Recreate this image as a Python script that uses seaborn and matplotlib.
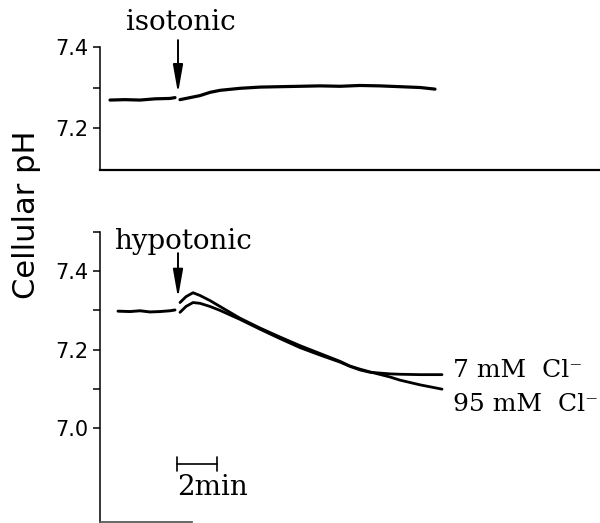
import matplotlib
matplotlib.use("Agg")
import matplotlib.pyplot as plt
import seaborn as sns
import pandas as pd

# ---------------- data (time in min, cellular pH) ----------------
iso_pre_t = [0.5, 1.25, 2.0, 2.75, 3.5, 3.75]
iso_pre_ph = [7.269, 7.270, 7.269, 7.272, 7.273, 7.275]
iso_post_t = [4.0, 4.5, 5.0, 5.5, 6.0, 7.0, 8.0, 9.0, 10.0, 11.0, 12.0, 13.0, 14.0, 15.0, 16.0, 16.75]
iso_post_ph = [7.270, 7.275, 7.280, 7.288, 7.293, 7.298, 7.301, 7.302, 7.303, 7.304, 7.303, 7.305,
               7.304, 7.302, 7.300, 7.296]

hypo_pre_t = [0.9, 1.5, 2.0, 2.5, 3.0, 3.5, 3.75]
hypo_pre_ph = [7.298, 7.297, 7.299, 7.296, 7.297, 7.299, 7.301]

hypo_t = [4.0, 4.3, 4.65, 5.0, 5.5, 6.0, 7.0, 8.0, 9.0, 10.0, 11.0, 12.0, 12.5, 13.0, 13.5,
          14.5, 15.0, 16.0, 17.1]
cl95_ph = [7.320, 7.335, 7.345, 7.338, 7.325, 7.310, 7.280, 7.255, 7.232, 7.210, 7.190, 7.170,
           7.158, 7.150, 7.143, 7.130, 7.122, 7.110, 7.099]
cl7_ph = [7.295, 7.310, 7.320, 7.318, 7.310, 7.300, 7.277, 7.252, 7.228, 7.205, 7.186, 7.168,
          7.157, 7.148, 7.142, 7.138, 7.137, 7.136, 7.136]

series_labels = ["7 mM  Cl\u207b", "95 mM  Cl\u207b"]
panel_labels = ["isotonic", "hypotonic"]
scale_bar_min = 2

# ---------------- style ----------------
sns.set_theme(style="ticks")
plt.rcParams["font.family"] = ["DejaVu Sans"]
plt.rcParams["text.color"] = "black"
plt.rcParams["axes.edgecolor"] = "black"
plt.rcParams["xtick.color"] = "black"
plt.rcParams["ytick.color"] = "black"
plt.rcParams["xtick.labelcolor"] = "black"
plt.rcParams["ytick.labelcolor"] = "black"

fig = plt.figure(figsize=(6.0, 5.23), dpi=100)
W, H = 600.0, 523.0
ax1 = fig.add_axes([100 / W, 1 - 170 / H, 500 / W, 123 / H])
ax2 = fig.add_axes([100 / W, 1 - 522 / H, 500 / W, 290 / H])

XMAX = 25.0
top_ylim = (7.0963, 7.4)
bot_ylim = (6.760, 7.5)


def trace(ax, t, ph, lw):
    df = pd.DataFrame({"t": t, "ph": ph})
    sns.lineplot(data=df, x="t", y="ph", ax=ax, color="black", lw=lw,
                 estimator=None, sort=False)


# top panel
trace(ax1, iso_pre_t, iso_pre_ph, 2.3)
trace(ax1, iso_post_t, iso_post_ph, 2.3)
ax1.set_xlim(0, XMAX)
ax1.set_ylim(*top_ylim)
ax1.set_yticks([7.2, 7.3, 7.4])
ax1.set_yticklabels(["7.2", "", "7.4"])
ax1.spines["left"].set_bounds(top_ylim[0], 7.4)
ax1.spines["bottom"].set_linewidth(1.6)

# bottom panel
trace(ax2, hypo_pre_t, hypo_pre_ph, 2.1)
trace(ax2, hypo_t, cl95_ph, 2.0)
trace(ax2, hypo_t, cl7_ph, 2.0)
ax2.set_xlim(0, XMAX)
ax2.set_ylim(*bot_ylim)
ax2.set_yticks([7.0, 7.1, 7.2, 7.3, 7.4, 7.5])
ax2.set_yticklabels(["7.0", "", "7.2", "", "7.4", ""])
ax2.spines["left"].set_bounds(bot_ylim[0], 7.5)
ax2.spines["bottom"].set_bounds(0, 4.6)
ax2.spines["bottom"].set_color("#555555")

for ax in (ax1, ax2):
    sns.despine(ax=ax, top=True, right=True)
    ax.set_xticks([])
    ax.set_xlabel("")
    ax.set_ylabel("")
    ax.spines["left"].set_linewidth(1.1)
    ax.tick_params(axis="y", length=5, width=1.1, pad=3.5, labelsize=15,
                   colors="black", labelcolor="black")
    ax.patch.set_alpha(0)

serif = ["DejaVu Serif"]
arrow_style = dict(arrowstyle="-|>,head_length=0.85,head_width=0.15", color="black",
                   lw=1.4, mutation_scale=20, shrinkA=0, shrinkB=0)

# isotonic label + arrow
ax1.annotate("", xy=(3.9, 7.286), xytext=(3.9, 7.417), xycoords="data",
             arrowprops=arrow_style, annotation_clip=False)
ax1.text(4.05, 7.442, panel_labels[0], family=serif, fontsize=20, ha="center",
         va="baseline", clip_on=False, color="black")

# hypotonic label + arrow
ax2.annotate("", xy=(3.9, 7.332), xytext=(3.9, 7.446), xycoords="data",
             arrowprops=arrow_style, annotation_clip=False)
ax2.text(4.12, 7.457, panel_labels[1], family=serif, fontsize=20, ha="center",
         va="baseline", clip_on=False, color="black")

# series labels
ax2.text(17.65, 7.129, series_labels[0], family=serif, fontsize=18, ha="left",
         va="baseline", color="black")
ax2.text(17.65, 7.042, series_labels[1], family=serif, fontsize=18, ha="left",
         va="baseline", color="black")

# time scale bar
sb_x0 = 3.85
sb_y = 6.908
ax2.plot([sb_x0, sb_x0 + scale_bar_min], [sb_y, sb_y], color="black", lw=1.2)
for xx in (sb_x0, sb_x0 + scale_bar_min):
    ax2.plot([xx, xx], [sb_y - 0.018, sb_y + 0.018], color="black", lw=1.2)
ax2.text(sb_x0, 6.829, f"{scale_bar_min}min", family=serif, fontsize=20, ha="left",
         va="baseline", color="black")

# y label
fig.text(27 / W, 1 - 215 / H, "Cellular pH", rotation=90, ha="center", va="center",
         fontsize=22, family=["DejaVu Sans"], color="black")

fig.savefig("out.png", dpi=100, facecolor="white")
